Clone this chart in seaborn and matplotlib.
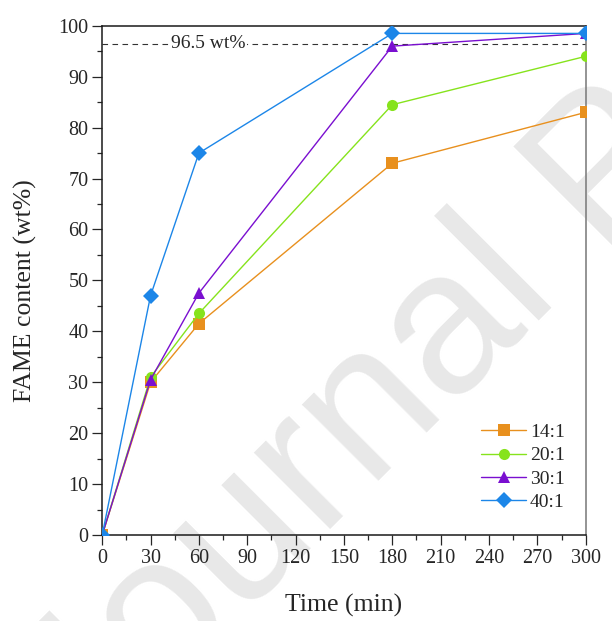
import matplotlib
matplotlib.use("Agg")
import matplotlib.pyplot as plt
import pandas as pd
import seaborn as sns
from matplotlib.ticker import MultipleLocator

time_min = [0, 30, 60, 180, 300]
ratio_14 = [0, 30.0, 41.5, 73.0, 83.0]
ratio_20 = [0, 31.0, 43.5, 84.5, 94.0]
ratio_30 = [0, 30.5, 47.5, 96.0, 98.5]
ratio_40 = [0, 47.0, 75.0, 98.5, 98.5]
labels = ['14:1', '20:1', '30:1', '40:1']
threshold = 96.5

sns.set_style('ticks')
plt.rcParams['font.family'] = ['Liberation Serif', 'DejaVu Serif']

rows = []
for lab, vals in zip(labels, [ratio_14, ratio_20, ratio_30, ratio_40]):
    for t, v in zip(time_min, vals):
        rows.append({'Time': t, 'FAME': v, 'Ratio': lab})
df = pd.DataFrame(rows)

palette = {'14:1': '#E8901E', '20:1': '#86E31C', '30:1': '#7A0FD0', '40:1': '#1C86E8'}
markers = {'14:1': 's', '20:1': 'o', '30:1': '^', '40:1': 'D'}

fig = plt.figure(figsize=(6.12, 6.21), dpi=100)
ax = fig.add_axes([0.167, 0.1385, 0.79, 0.82])
ax.set_zorder(1)
ax.patch.set_alpha(0)

# faint watermark, as in the source image (runs off the page there too)
fig.text(0.145, -0.242, 'Journal Pre-proof', fontsize=147, color='#e8e8e8',
         family=['Liberation Sans', 'DejaVu Sans'], rotation=45,
         rotation_mode='anchor', ha='left', va='baseline', zorder=0)

ax.axhline(threshold, color='#333333', lw=0.8, ls=(0, (5, 4)), zorder=1)
ax.text(66, threshold, '96.5 wt%', fontsize=14, ha='center', va='center',
        bbox=dict(facecolor='white', edgecolor='none', pad=1), zorder=2)

sns.lineplot(data=df, x='Time', y='FAME', hue='Ratio', style='Ratio',
             palette=palette, markers=markers, dashes=False, markersize=8,
             markeredgewidth=0, linewidth=1.0, ax=ax, zorder=3)

ax.set_xlim(0, 300)
ax.set_ylim(0, 100)
ax.xaxis.set_major_locator(MultipleLocator(30))
ax.xaxis.set_minor_locator(MultipleLocator(15))
ax.yaxis.set_major_locator(MultipleLocator(10))
ax.yaxis.set_minor_locator(MultipleLocator(5))
ax.tick_params(which='major', length=7, width=0.9, labelsize=14.5, pad=3,
               direction='out')
ax.tick_params(which='minor', length=3.5, width=0.9, direction='out')
for s in ax.spines.values():
    s.set_visible(True)
    s.set_linewidth(1.1)
    s.set_color('#1a1a1a')
ax.spines['right'].set_color('#777777')

ax.set_xlabel('Time (min)', fontsize=18.5, labelpad=19)
ax.set_ylabel('FAME content (wt%)', fontsize=18.5)
ax.yaxis.set_label_coords(-0.135, 0.48)

leg = ax.legend(loc='lower right', frameon=False, fontsize=14,
                bbox_to_anchor=(0.985, 0.02), handlelength=2.3, labelspacing=0.3,
                handletextpad=0.2, borderaxespad=0.3)

fig.savefig('out.png', dpi=100)
